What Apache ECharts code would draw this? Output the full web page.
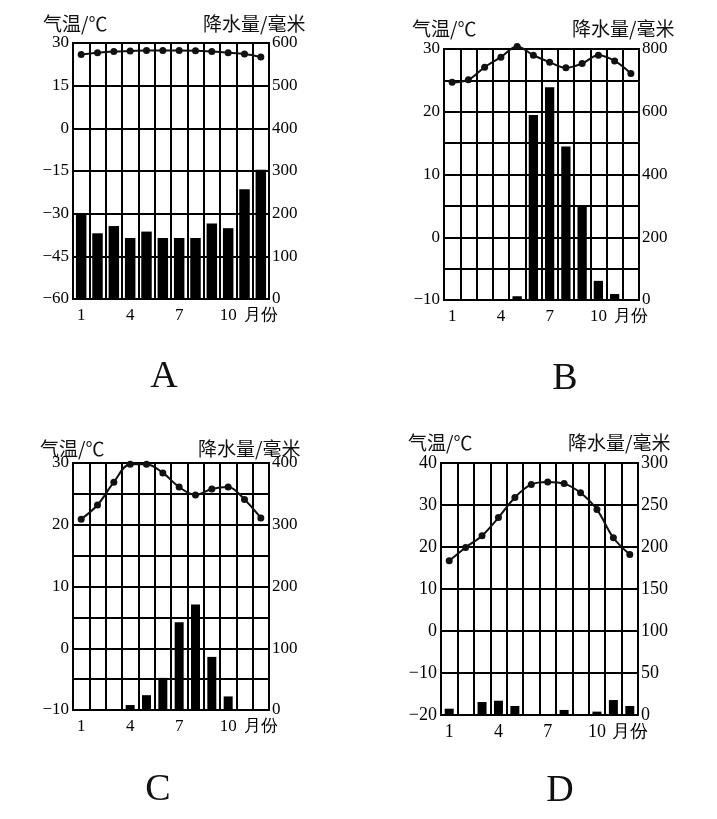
<!DOCTYPE html>
<html>
<head>
<meta charset="utf-8">
<title>气温降水图</title>
<script src="https://cdn.jsdelivr.net/npm/echarts@6/dist/echarts.min.js"></script>
<style>
    html, body { margin: 0; padding: 0; background: #fff; }
    #main { width: 717px; height: 819px; }
</style>
</head>
<body>
<div id="main"></div>
<script>
// 月份和刻度标签
const months = [1, 2, 3, 4, 5, 6, 7, 8, 9, 10, 11, 12];
const monthLabels = ['1', '', '', '4', '', '', '7', '', '', '10', '', '月份'];

// A
const tempA = [26, 26.6, 27, 27.2, 27.4, 27.4, 27.4, 27.3, 27, 26.6, 26.1, 25.1];
const rainA = [200, 154, 171, 143, 158, 143, 143, 143, 177, 166, 257, 303];
// B
const tempB = [24.7, 25.1, 27.1, 28.7, 30.4, 29.0, 27.9, 27.0, 27.7, 29.0, 28.1, 26.1];
const rainB = [0, 0, 0, 0, 12, 590, 678, 489, 303, 61, 19, 0];
// C
const tempC = [20.9, 23.2, 26.9, 29.8, 29.8, 28.4, 26.1, 24.8, 25.8, 26.1, 24.1, 21.1];
const rainC = [0, 0, 0, 8, 24, 52, 142, 171, 86, 22, 0, 0];
// D
const tempD = [16.7, 19.9, 22.7, 27.0, 31.8, 34.9, 35.5, 35.1, 32.9, 28.9, 22.2, 18.2];
const rainD = [7.5, 0, 15.5, 17, 10.7, 0, 0, 6, 0, 4, 17.8, 10.7];

const numFont = '"Liberation Serif", "Times New Roman", serif';
const cjkFont = '"Noto Sans CJK SC", sans-serif';

var myChart = echarts.init(document.getElementById('main'));

let grids = [], xAxes = [], yAxes = [], series = [], texts = [];

// 每个小图: 位置, 数据, 左右轴范围, 标签步长
let charts = [
    { name: 'A', box: [73, 43, 196, 256], temp: tempA, rain: rainA, t: [-60, 30, 15, 15], r: [0, 600, 100, 100], bw: 10.5, fs: 17,
      tl: [43, 25], rl: [203, 25], letter: [164, 377] },
    { name: 'B', box: [444, 49, 195, 251], temp: tempB, rain: rainB, t: [-10, 30, 5, 10], r: [0, 800, 100, 200], bw: 9.3, fs: 17,
      tl: [412, 30], rl: [572, 30], letter: [565, 379] },
    { name: 'C', box: [73, 463, 196, 247], temp: tempC, rain: rainC, t: [-10, 30, 5, 10], r: [0, 400, 50, 100], bw: 9, fs: 17,
      tl: [40, 450], rl: [198, 450], letter: [158, 790] },
    { name: 'D', box: [441, 463, 197, 252], temp: tempD, rain: rainD, t: [-20, 40, 10, 10], r: [0, 300, 50, 50], bw: 9, fs: 18,
      tl: [408, 444], rl: [568, 444], letter: [560, 791] }
];

function fmt(step) {
    return function (v) {
        if (Math.round(v) % step !== 0) return '';
        return String(v).replace('-', '\u2212');
    };
}

charts.forEach(function (c, i) {
    grids.push({
        left: c.box[0], top: c.box[1], width: c.box[2], height: c.box[3],
        show: true, borderColor: '#000', borderWidth: 2, containLabel: false
    });
    xAxes.push({
        type: 'category', gridIndex: i, data: months, boundaryGap: true,
        axisLine: { lineStyle: { color: '#000', width: 2 } },
        axisTick: { show: false },
        axisLabel: {
            interval: 0, margin: 8, color: '#000', fontSize: c.fs, fontFamily: numFont,
            formatter: function (v, idx) { return monthLabels[idx]; }
        },
        splitLine: { show: true, interval: 0, lineStyle: { color: '#000', width: 2 } }
    });
    // 左轴 气温
    yAxes.push({
        type: 'value', gridIndex: i, position: 'left',
        min: c.t[0], max: c.t[1], interval: c.t[2],
        axisLine: { show: true, lineStyle: { color: '#000', width: 2 } },
        axisTick: { show: false },
        axisLabel: { margin: 4, color: '#000', fontSize: c.fs, fontFamily: numFont, formatter: fmt(c.t[3]) },
        splitLine: { show: true, lineStyle: { color: '#000', width: 2 } }
    });
    // 右轴 降水量
    yAxes.push({
        type: 'value', gridIndex: i, position: 'right',
        min: c.r[0], max: c.r[1], interval: c.r[2],
        axisLine: { show: true, lineStyle: { color: '#000', width: 2 } },
        axisTick: { show: false },
        axisLabel: { margin: 3, color: '#000', fontSize: c.fs, fontFamily: numFont, formatter: fmt(c.r[3]) },
        splitLine: { show: false }
    });
    series.push({
        name: '降水量' + c.name, type: 'bar', xAxisIndex: i, yAxisIndex: i * 2 + 1,
        data: c.rain, barWidth: c.bw, itemStyle: { color: '#000' }, silent: true
    });
    series.push({
        name: '气温' + c.name, type: 'line', xAxisIndex: i, yAxisIndex: i * 2,
        data: c.temp, smooth: 0.35, clip: false, z: 5,
        symbol: 'circle', symbolSize: 7,
        lineStyle: { color: '#111', width: 2 },
        itemStyle: { color: '#111' }, silent: true
    });
    texts.push({ type: 'text', left: c.tl[0], top: c.tl[1] - 11,
        style: { text: '气温/℃', fontSize: 19, fontFamily: cjkFont, fill: '#111' } });
    texts.push({ type: 'text', left: c.rl[0], top: c.rl[1] - 11,
        style: { text: '降水量/毫米', fontSize: 19, fontFamily: cjkFont, fill: '#111' } });
    texts.push({ type: 'text', x: c.letter[0], y: c.letter[1],
        style: { text: c.name, fontSize: 38, fontFamily: numFont, fill: '#111', align: 'center', verticalAlign: 'middle' } });
});

option = {
    backgroundColor: '#fff',
    animation: false,
    grid: grids,
    xAxis: xAxes,
    yAxis: yAxes,
    series: series,
    graphic: texts
};
myChart.setOption(option);
</script>
</body>
</html>
